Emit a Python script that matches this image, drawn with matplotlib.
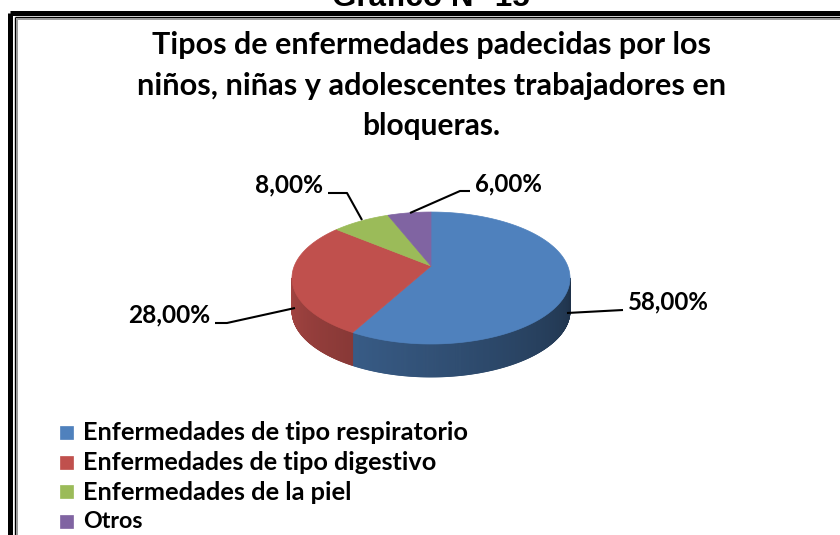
import numpy as np
import matplotlib
matplotlib.use("Agg")
import matplotlib.pyplot as plt
from matplotlib.collections import PolyCollection
from matplotlib.patches import Polygon, Rectangle

# ---------------- data ----------------
categories = ["Enfermedades de tipo respiratorio",
              "Enfermedades de tipo digestivo",
              "Enfermedades de la piel",
              "Otros"]
values = [58.0, 28.0, 8.0, 6.0]
labels = ["58,00%", "28,00%", "8,00%", "6,00%"]
colors = ["#4F81BD", "#C0504D", "#9BBB59", "#8064A2"]
title_lines = ["Tipos de enfermedades padecidas por los",
               "niños, niñas y adolescentes trabajadores en",
               "bloqueras."]
header = "Gráfico N° 15"

W, H = 840, 535
fig = plt.figure(figsize=(W / 100, H / 100), dpi=100)
fig.patch.set_facecolor("white")
ax = fig.add_axes([0, 0, 1, 1])
ax.set_xlim(0, W)
ax.set_ylim(H, 0)
ax.axis("off")

renderer = fig.canvas.get_renderer()


def fit_text(x, y, s, target_w, size0=16, **kw):
    t = ax.text(x, y, s, fontsize=size0, **kw)
    bb = t.get_window_extent(renderer=renderer)
    t.set_fontsize(size0 * target_w / bb.width)
    return t


# ---------------- frame ----------------
ax.plot([9.5, 9.5], [12.5, 600], color="black", lw=3.6, solid_capstyle="butt")
ax.plot([9.5, 900], [12.5, 12.5], color="black", lw=3.6, solid_capstyle="butt")
ax.plot([14.6, 14.6], [16.6, 600], color="black", lw=1.0, solid_capstyle="butt")
ax.plot([14.6, 900], [16.6, 16.6], color="black", lw=1.0, solid_capstyle="butt")
ax.plot([17.2, 17.2], [19.2, 600], color="#9a9a9a", lw=1.4, solid_capstyle="butt")
ax.plot([17.2, 900], [19.2, 19.2], color="#9a9a9a", lw=1.4, solid_capstyle="butt")

# header (cut off at top)
fit_text(431, 6, header, 197, size0=22, ha="center", va="baseline",
         family="Liberation Sans", fontweight="bold", color="black")

# ---------------- title ----------------
tfont = dict(family="Lato", fontweight="bold", color="black", ha="center", va="baseline")
fit_text(432, 54, title_lines[0], 560, size0=20, **tfont)
fit_text(432, 95, title_lines[1], 590, size0=20, **tfont)
fit_text(431, 135, title_lines[2], 138, size0=20, **tfont)

# ---------------- 3D pie ----------------
cx, cy = 431.0, 266.0
R, Ry, p = 136.7, 63.8, 0.182
depth = 33.0


def proj(theta_deg, dy=0.0):
    th = np.radians(theta_deg)
    X, Z = np.cos(th), np.sin(th)
    w = 1 + p * Z
    return cx + R * X / w, cy - Ry * Z / w + dy


fracs = np.array(values) / np.sum(values)
bounds = 90 - 360 * np.concatenate([[0], np.cumsum(fracs)])
left_sil = -180 + np.degrees(np.arcsin(p))
right_sil = -np.degrees(np.arcsin(p))


def shade(rgb, theta):
    t = (theta - left_sil) / (right_sil - left_sil)
    f = 0.86 - 0.47 * t
    return tuple(np.clip(np.array(rgb) * f, 0, 1))


# sides
for i in range(len(values)):
    a0, a1 = bounds[i + 1], bounds[i]  # a0 < a1
    lo, hi = max(a0, left_sil), min(a1, right_sil)
    if hi <= lo:
        continue
    ths = np.linspace(lo, hi, int((hi - lo) * 3) + 2)
    polys, fcs = [], []
    base = matplotlib.colors.to_rgb(colors[i])
    for ta, tb in zip(ths[:-1], ths[1:]):
        xa, ya = proj(ta)
        xb, yb = proj(tb)
        polys.append([(xa, ya), (xb, yb), (xb, yb + depth), (xa, ya + depth)])
        fcs.append(shade(base, 0.5 * (ta + tb)))
    pc = PolyCollection(polys, facecolors=fcs, edgecolors=fcs, linewidths=0.6,
                        antialiased=True)
    ax.add_collection(pc)

# tops
for i in range(len(values)):
    a0, a1 = bounds[i + 1], bounds[i]
    ths = np.linspace(a1, a0, 200)
    pts = [(cx, cy)] + [proj(t) for t in ths]
    ax.add_patch(Polygon(pts, closed=True, facecolor=colors[i],
                         edgecolor=colors[i], lw=0.5))

# ---------------- data labels ----------------
lfont = dict(family="Lato", fontweight="bold", color="black", va="center")
lab_pos = [(628, 302, "left"), (210, 315, "right"), (323, 185, "right"), (475, 184, "left")]
leaders = [
    [(567, 313), (623, 310)],
    [(215, 323), (227, 323), (295, 308)],
    [(328, 193), (347, 193), (362, 220)],
    [(470, 191), (460, 191), (410, 213)],
]
widths = [81, 82, 68, 67]
for (x, y, ha), s, wt, ld in zip(lab_pos, labels, widths, leaders):
    fit_text(x, y, s, wt, size0=16, ha=ha, **lfont)
    xs, ys = zip(*ld)
    ax.plot(xs, ys, color="black", lw=1.5, solid_capstyle="butt")

# ---------------- legend ----------------
leg_y = [432, 462, 491, 521]
leg_w = [387, 357, 270, 60]
for c, name, y, wt in zip(colors, categories, leg_y, leg_w):
    ax.add_patch(Rectangle((60, y - 6.5), 13, 13, facecolor=c, edgecolor=c, lw=0.5))
    fit_text(83, y + 1, name, wt, size0=16, family="Lato", fontweight="bold",
             color="black", ha="left", va="center")

fig.savefig("out.png", dpi=100)
